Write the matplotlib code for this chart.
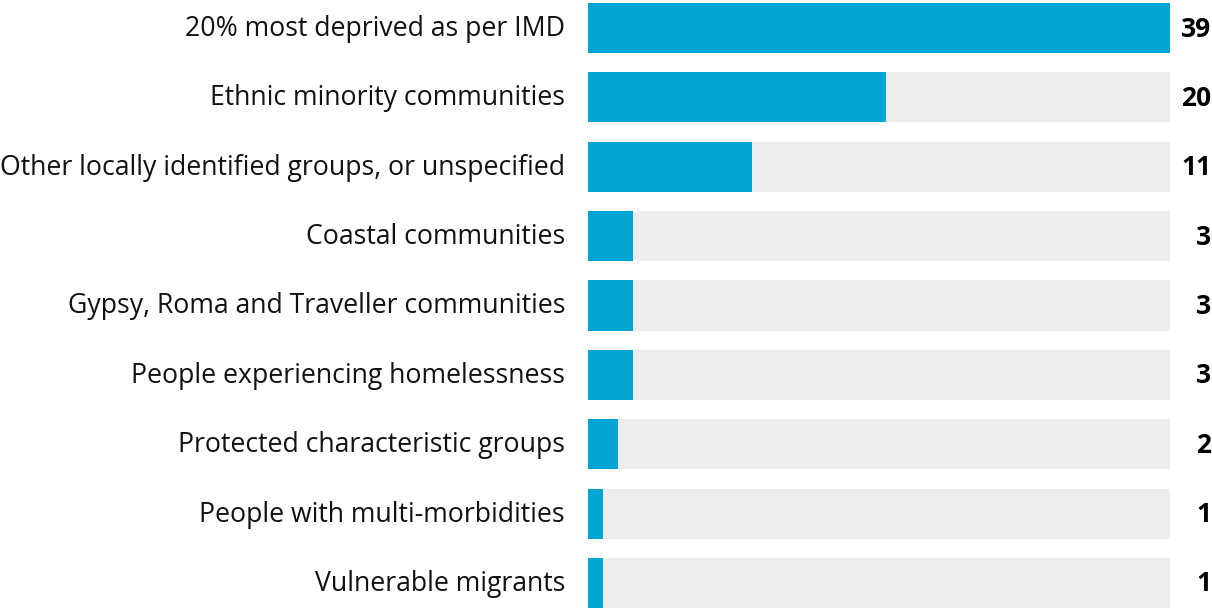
import matplotlib.pyplot as plt

# данные
categories = [
    '20% most deprived as per IMD',
    'Ethnic minority communities',
    'Other locally identified groups, or unspecified',
    'Coastal communities',
    'Gypsy, Roma and Traveller communities',
    'People experiencing homelessness',
    'Protected characteristic groups',
    'People with multi-morbidities',
    'Vulnerable migrants',
]
values = [39, 20, 11, 3, 3, 3, 2, 1, 1]
max_value = 39

BLUE = '#00A5D2'
GREY = '#EDEDED'

plt.rcParams['font.family'] = ['Open Sans', 'DejaVu Sans']

W, H = 1212, 608
fig = plt.figure(figsize=(W / 100, H / 100), dpi=100)
ax = fig.add_axes([588 / W, 0, (1170 - 588) / W, 605 / H])

pos = list(range(len(categories)))
bar_h = 50 / 69.3
ax.barh(pos, [max_value] * len(pos), height=bar_h, color=GREY)
ax.barh(pos, values, height=bar_h, color=BLUE)

ax.set_xlim(0, max_value)
half = bar_h / 2
ax.set_ylim(len(pos) - 1 + half, -half)

for i, (cat, v) in enumerate(zip(categories, values)):
    ax.annotate(cat, xy=(0, i), xytext=(-23, -1), textcoords='offset pixels',
                ha='right', va='center', fontsize=19.2, color='#111111')
    ax.annotate(str(v), xy=(max_value, i), xytext=(41, -1), textcoords='offset pixels',
                ha='right', va='center', fontsize=19, fontweight='bold', color='#000000')

ax.set_xticks([])
ax.set_yticks([])
for s in ax.spines.values():
    s.set_visible(False)

fig.savefig('out.png', dpi=100)
